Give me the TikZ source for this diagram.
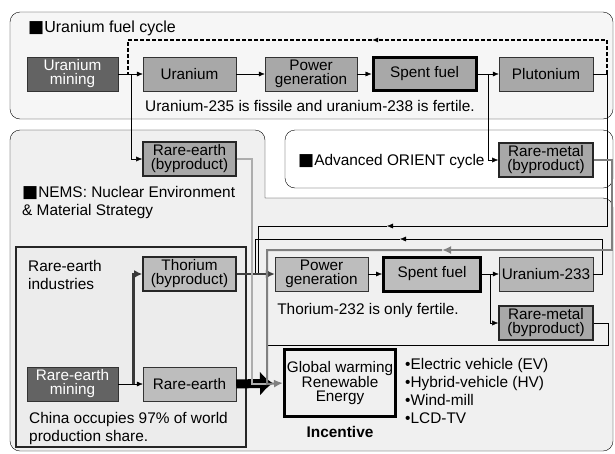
\documentclass[tikz,border=0pt]{standalone}
\usepackage{fontspec}
\setmainfont{Liberation Sans}
\newfontfamily\squarefont{DejaVu Sans}
\usetikzlibrary{arrows.meta,positioning,calc}
\definecolor{panelgray}{gray}{0.965}
\definecolor{nemsgray}{gray}{0.94}
\definecolor{indgray}{gray}{0.925}
\definecolor{boxgray}{gray}{0.66}
\definecolor{lightbox}{gray}{0.74}
\definecolor{minegray}{gray}{0.39}
\newcommand{\blocksq}{{\squarefont\fontsize{17}{14}\selectfont ■}}

\tikzset{
  box/.style={draw=black!80, fill=boxgray, minimum width=93pt, minimum height=34pt,
    inner sep=1pt, align=center, font=\fontsize{15.3}{14}\selectfont},
  minebox/.style={box, fill=minegray, text=white, minimum width=91pt},
  bybox/.style={box, draw=black!85, line width=1.6pt},
  spentbox/.style={box, draw=black, line width=3pt},
  flow/.style={-{Latex[length=6pt,width=5pt]}},
  recycle/.style={line width=1.2pt, dash pattern=on 4pt off 2pt},
  graylink/.style={draw=black!50, line width=2pt, -{Latex[length=9pt,width=8pt]}},
  palelink/.style={draw=black!32, line width=2pt},
  thlink/.style={draw=black!75, line width=2.5pt, -{Latex[length=9pt,width=9pt]}},
  bigarrow/.style={draw=black, line width=9pt, -{Latex[length=13pt,width=25pt]}},
  panel/.style={draw, rounded corners=10pt},
}

\begin{document}
\begin{tikzpicture}[x=1pt,y=-1pt, font=\fontsize{15.4}{18}\selectfont]
\useasboundingbox (0,0) rectangle (615,453);

% panels
\draw[panel, fill=panelgray] (10,12) rectangle (613,119);
\draw[fill=nemsgray] (265,198) [rounded corners=10pt] -- (265,130) -- (10,130) -- (10,451)
  -- (613,451) -- (613,198) [sharp corners] -- cycle;
\draw[panel, fill=white] (285,130) rectangle (613,188);
\draw[draw=black!85, line width=1.5pt, fill=indgray] (16,247) rectangle (246,447);

% titles and notes
\node[anchor=west, inner sep=0, font=\fontsize{16}{18}\selectfont] (utitle) at (28,28) {\blocksq Uranium fuel cycle};
\node[inner sep=0] (unote) at (310,106) {Uranium-235 is fissile and uranium-238 is fertile.};
\node[anchor=west, inner sep=0] (otitle) at (298,162) {\blocksq Advanced ORIENT cycle};
\node[anchor=north west, align=left, inner sep=0] (ntitle) at (22,186) {\blocksq NEMS: Nuclear Environment\\\& Material Strategy};
\node[anchor=north west, align=left, inner sep=0] (indlabel) at (28,260) {Rare-earth\\industries};
\node[anchor=north west, align=left, inner sep=0] (china) at (29,412) {China occupies 97\% of world\\production share.};
\node[inner sep=0] (tnote) at (368,311) {Thorium-232 is only fertile.};

% uranium cycle
\node[minebox] (umine) at (72.5,74) {Uranium\\mining};
\node[box] (uran) at (189.5,74) {Uranium};
\node[box, minimum width=92pt] (upower) at (311,74) {Power\\generation};
\node[spentbox, minimum width=103pt, minimum height=33pt] (uspent) at (424.5,74) {Spent fuel};
\node[box, minimum width=94pt] (pluto) at (546,74) {Plutonium};
\node[bybox] (rebyp) at (189.5,159) {Rare-earth\\(byproduct)};
\node[bybox, minimum width=94pt] (rmbyp) at (546,160) {Rare-metal\\(byproduct)};

% rare-earth industries
\node[bybox, fill=lightbox] (thorium) at (189.5,274) {Thorium\\(byproduct)};
\node[minebox] (remine) at (72.5,384) {Rare-earth\\mining};
\node[box, fill=lightbox] (reearth) at (189.5,384) {Rare-earth};

% thorium cycle
\node[box, fill=lightbox] (tpower) at (321.5,274) {Power\\generation};
\node[spentbox, fill=lightbox, minimum width=97pt, minimum height=34pt] (tspent) at (432,274) {Spent fuel};
\node[box, fill=lightbox!110, minimum width=94pt] (u233) at (546,274) {Uranium-233};
\node[bybox, minimum width=94pt] (rmlow) at (546,323) {Rare-metal\\(byproduct)};

% incentive
\node[draw, line width=3pt, fill=nemsgray, minimum width=111pt, minimum height=67pt,
  align=center, inner sep=0, font=\fontsize{15.3}{14}\selectfont] (global) at (340,383) {Global warming\\Renewable\\Energy};
\node[inner sep=0, font=\fontsize{15.4}{18}\selectfont\bfseries] (incent) at (340,432) {Incentive};
\node[anchor=north west, align=left, inner sep=0] (uses) at (405,358) {•Electric vehicle (EV)\\•Hybrid-vehicle (HV)\\•Wind-mill\\•LCD-TV};

% bend points
\coordinate (ufork) at (131,74);
\coordinate (sfork) at (488,74);
\coordinate (ploop) at (607,74);
\coordinate (loopne) at (607,40);
\coordinate (loopmid) at (372,40);
\coordinate (loopnw) at (128,40);
\coordinate (loopin) at (128,74);
\coordinate (pdrop) at (607,226);
\coordinate (pmid) at (387,226);
\coordinate (pleft) at (258,226);
\coordinate (pjoin) at (258,274);
\coordinate (uright) at (602,274);
\coordinate (uup) at (602,239);
\coordinate (umid) at (400,239);
\coordinate (uleft) at (255,239);
\coordinate (ujoin) at (255,274);
\coordinate (gright) at (612,160);
\coordinate (gdrop) at (612,250);
\coordinate (gmid) at (442,250);
\coordinate (gleft) at (267,250);
\coordinate (gfoot) at (267,384);
\coordinate (pright) at (252,159);
\coordinate (pfoot) at (252,384);
\coordinate (rright) at (608,323);
\coordinate (rdrop) at (608,345);
\coordinate (rleft) at (267,345);
\coordinate (tfork) at (490,274);
\coordinate (rfork) at (133,384);

% uranium flow
\draw[flow] (umine) -- (uran);
\draw[flow] (uran) -- (upower);
\draw[flow] (upower) -- (uspent);
\draw[flow] (uspent) -- (pluto);
\draw[flow] (ufork) |- (rebyp.west);
\draw[flow] (sfork) |- (rmbyp.west);
\draw (pluto.east) -- (ploop);
\draw[recycle, flow] (ploop) -- (loopne) -- (loopmid);
\draw[recycle] (loopmid) -- (loopnw) -- (loopin);

% returns to the thorium cycle
\draw[flow] (ploop) -- (pdrop) -- (pmid);
\draw (pmid) -- (pleft) -- (pjoin);
\draw[flow] (u233.east) -- (uright) -- (uup) -- (umid);
\draw (umid) -- (uleft) -- (ujoin);
\draw (rmlow.east) -- (rright) -- (rdrop) -- (rleft);

% rare-earth flow
\draw[flow] (remine) -- (reearth);
\draw[draw=black!78, line width=3pt, -{Latex[length=8pt,width=8pt]}] (rfork) |- (thorium.west);
\draw[thlink] (thorium.east) -- (tpower.west);
\draw[bigarrow, shorten >=10pt] (reearth.east) -- (global.west);
\draw[palelink] (rebyp.east) -- (pright) -- (pfoot) -- (gfoot);
\draw[graylink] (rmbyp.east) -- (gright) -- (gdrop) -- (gmid);
\draw[graylink] (gmid) -- (gleft) -- (gfoot) -- (global.west);

% thorium flow
\draw[flow] (tpower) -- (tspent);
\draw[flow] (tspent) -- (u233);
\draw[flow] (tfork) |- (rmlow.west);
\end{tikzpicture}
\end{document}
